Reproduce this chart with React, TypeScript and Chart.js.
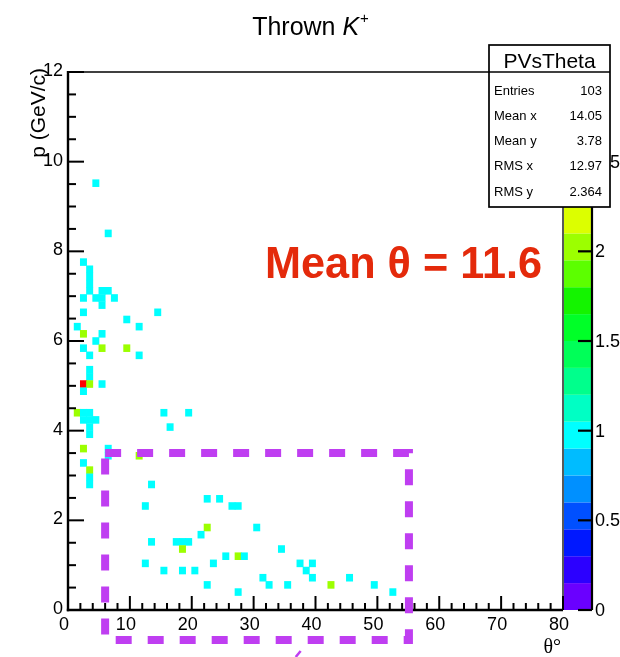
import React, { useEffect, useRef } from "react";
import { Chart, registerables } from "chart.js";

Chart.register(...registerables);

// ---- histogram PVsTheta: 1 deg x 0.16 GeV/c bins, bin centres and contents ----
const THETA_BIN = 1;
const P_BIN = 0.16;

const cellTheta = [
  4.5, 6.5, 2.5, 3.5, 3.5, 3.5, 3.5, 5.5, 6.5, 2.5, 4.5, 5.5, 7.5, 5.5, 2.5, 14.5,
  9.5, 1.5, 11.5, 2.5, 5.5, 4.5, 2.5, 5.5, 9.5, 3.5, 11.5, 3.5, 3.5, 2.5, 3.5, 5.5,
  2.5, 1.5, 2.5, 3.5, 15.5, 19.5, 2.5, 3.5, 4.5, 3.5, 16.5, 3.5, 2.5, 6.5, 6.5, 11.5,
  2.5, 3.5, 3.5, 3.5, 13.5, 12.5, 22.5, 24.5, 26.5, 27.5, 22.5, 30.5, 21.5, 13.5, 17.5,
  18.5, 19.5, 18.5, 34.5, 25.5, 27.5, 28.5, 12.5, 23.5, 37.5, 39.5, 15.5, 18.5, 20.5,
  38.5, 31.5, 39.5, 45.5, 22.5, 32.5, 35.5, 42.5, 49.5, 27.5, 52.5,
];
const cellP = [
  9.52, 8.40, 7.76, 7.60, 7.44, 7.28, 7.12, 7.12, 7.12, 6.96, 6.96, 6.96, 6.96, 6.80, 6.64, 6.64,
  6.48, 6.32, 6.32, 6.16, 6.16, 6.00, 5.84, 5.84, 5.84, 5.68, 5.68, 5.36, 5.20, 5.04, 5.04, 5.04,
  4.88, 4.40, 4.40, 4.40, 4.40, 4.40, 4.24, 4.24, 4.24, 4.08, 4.08, 3.92, 3.60, 3.60, 3.44, 3.44,
  3.28, 3.12, 2.96, 2.80, 2.80, 2.32, 2.48, 2.48, 2.32, 2.32, 1.84, 1.84, 1.68, 1.52, 1.52,
  1.52, 1.52, 1.36, 1.36, 1.20, 1.20, 1.20, 1.04, 1.04, 1.04, 1.04, 0.88, 0.88, 0.88,
  0.88, 0.72, 0.72, 0.72, 0.56, 0.56, 0.56, 0.56, 0.56, 0.40, 0.40,
];
const cellCounts = [
  1, 1, 1, 1, 1, 1, 1, 1, 1, 1, 1, 1, 1, 1, 1, 1,
  1, 1, 1, 2, 1, 1, 1, 2, 2, 1, 1, 1, 1, 3, 2, 1,
  1, 2, 1, 1, 1, 1, 1, 1, 1, 1, 1, 1, 2, 1, 1, 2,
  1, 2, 1, 1, 1, 1, 1, 1, 1, 1, 2, 1, 1, 1, 1,
  1, 1, 2, 1, 1, 2, 1, 1, 1, 1, 1, 1, 1, 1,
  1, 1, 1, 1, 1, 1, 1, 2, 1, 1, 1,
];

// ---- axes ----
const X_MIN = 0, X_MAX = 80, X_MAJOR = 10, X_MINOR = 2;
const Y_MIN = 0, Y_MAX = 12, Y_MAJOR = 2, Y_MINOR = 0.5;
const Z_MIN = 0, Z_MAX = 3, Z_MAJOR = 0.5;
const xTickValues = [0, 10, 20, 30, 40, 50, 60, 70, 80];
const xTickLabels = ["0", "10", "20", "30", "40", "50", "60", "70", "80"];
const yTickValues = [0, 2, 4, 6, 8, 10, 12];
const yTickLabels = ["0", "2", "4", "6", "8", "10", "12"];
const zTickValues = [0, 0.5, 1, 1.5, 2, 2.5, 3];
const zTickLabels = ["0", "0.5", "1", "1.5", "2", "2.5", "3"];

// rainbow palette, 20 contour levels over [Z_MIN, Z_MAX]
const paletteColors = [
  "#6a00ff", "#2c00ff", "#0018ff", "#0050ff", "#0090ff", "#00bcff", "#00ffff", "#00ffc4",
  "#00ff8c", "#00ff58", "#00ff28", "#14f400", "#5cff00", "#9cff00", "#dcff00", "#ffff00",
  "#ffc400", "#ff8a00", "#ff4a00", "#ff0000",
];

// ---- stats box ----
const statsTitle = "PVsTheta";
const statNames = ["Entries", "Mean x", "Mean y", "RMS x", "RMS y"];
const statValues = ["103", "14.05", "3.78", "12.97", "2.364"];

// ---- cut region and note ----
const cutTheta = [6.0, 55.1];
const cutP = [-0.67, 3.5];
const noteText = "Mean \u03b8 = 11.6";

const SANS = '"Liberation Sans", Arial, Helvetica, sans-serif';
const SERIF = '"Liberation Serif", "Times New Roman", serif';

function levelColor(v: number) {
  const n = paletteColors.length;
  const idx = Math.min(n - 1, Math.max(0, Math.floor(((v - Z_MIN) / (Z_MAX - Z_MIN)) * n)));
  return paletteColors[idx];
}

function line(ctx: CanvasRenderingContext2D, x0: number, y0: number, x1: number, y1: number) {
  ctx.beginPath();
  ctx.moveTo(x0, y0);
  ctx.lineTo(x1, y1);
  ctx.stroke();
}

const rootStyle = {
  id: "rootStyle",
  beforeDatasetsDraw(chart: any) {
    const { ctx } = chart;
    const xs = chart.scales.x;
    const ys = chart.scales.y;
    ctx.save();
    for (const pt of chart.data.datasets[0].data) {
      const x0 = xs.getPixelForValue(pt.x - THETA_BIN / 2);
      const x1 = xs.getPixelForValue(pt.x + THETA_BIN / 2);
      const y0 = ys.getPixelForValue(pt.y + P_BIN / 2);
      const y1 = ys.getPixelForValue(pt.y - P_BIN / 2);
      ctx.fillStyle = levelColor(pt.count);
      ctx.fillRect(x0 - 0.4, y0 - 0.2, x1 - x0 + 0.8, y1 - y0 + 0.4);
    }
    ctx.restore();
  },
  afterDraw(chart: any) {
    const { ctx, chartArea: a } = chart;
    const xs = chart.scales.x;
    const ys = chart.scales.y;
    const zs = chart.scales.z;
    ctx.save();

    // frame
    ctx.strokeStyle = "#000";
    ctx.lineWidth = 1.3;
    line(ctx, a.left, a.top, a.right, a.top);
    line(ctx, a.right, a.top, a.right, a.bottom);

    // palette
    const pl = a.right + 1, pr = a.right + 29;
    const n = paletteColors.length;
    for (let i = 0; i < n; i++) {
      const z0 = Z_MIN + ((Z_MAX - Z_MIN) * i) / n;
      const z1 = Z_MIN + ((Z_MAX - Z_MIN) * (i + 1)) / n;
      const yTop = zs.getPixelForValue(z1);
      const yBot = zs.getPixelForValue(z0);
      ctx.fillStyle = paletteColors[i];
      ctx.fillRect(pl, yTop, pr - pl, yBot - yTop);
    }
    ctx.lineWidth = 2.2;
    line(ctx, pr, a.top, pr, a.bottom);
    for (let v = Z_MIN; v <= Z_MAX + 1e-9; v += Z_MAJOR) {
      const py = zs.getPixelForValue(v);
      line(ctx, pr, py, pr - 14, py);
    }
    ctx.fillStyle = "#000";
    ctx.font = `18px ${SANS}`;
    ctx.textAlign = "left";
    ctx.textBaseline = "middle";
    zTickValues.forEach((v, i) => ctx.fillText(zTickLabels[i], pr + 3, zs.getPixelForValue(v) + 1));

    // axes lines
    ctx.lineWidth = 2.4;
    line(ctx, a.left, a.top - 1, a.left, a.bottom + 1.2);
    line(ctx, a.left - 1.2, a.bottom, a.right, a.bottom);

    // ticks (inside the frame)
    ctx.lineWidth = 2;
    for (let v = X_MIN; v <= X_MAX + 1e-9; v += X_MINOR) {
      const px = xs.getPixelForValue(v);
      const len = Math.abs(v / X_MAJOR - Math.round(v / X_MAJOR)) < 1e-6 ? 14 : 7;
      line(ctx, px, a.bottom, px, a.bottom - len);
    }
    for (let v = Y_MIN; v <= Y_MAX + 1e-9; v += Y_MINOR) {
      const py = ys.getPixelForValue(v);
      const len = Math.abs(v / Y_MAJOR - Math.round(v / Y_MAJOR)) < 1e-6 ? 16 : 8;
      line(ctx, a.left, py, a.left + len, py);
    }

    // tick labels
    ctx.font = `18px ${SANS}`;
    ctx.textAlign = "center";
    ctx.textBaseline = "top";
    xTickValues.forEach((v, i) => ctx.fillText(xTickLabels[i], xs.getPixelForValue(v) - 4, a.bottom + 6));
    ctx.textAlign = "right";
    ctx.textBaseline = "middle";
    yTickValues.forEach((v, i) => ctx.fillText(yTickLabels[i], a.left - 5, ys.getPixelForValue(v) - 1));

    // axis titles
    ctx.font = `20px ${SERIF}`;
    ctx.textAlign = "right";
    ctx.textBaseline = "alphabetic";
    ctx.fillText("\u03b8\u00b0", a.right - 2, 653);
    ctx.save();
    ctx.translate(45, a.top - 4);
    ctx.rotate(-Math.PI / 2);
    ctx.font = `21px ${SANS}`;
    ctx.textAlign = "right";
    ctx.fillText("p (GeV/c)", 0, 0);
    ctx.restore();

    // main title: Thrown K^+
    const cx = chart.width / 2;
    ctx.textAlign = "left";
    ctx.textBaseline = "alphabetic";
    const fMain = `25px ${SANS}`;
    const fItal = `italic 25px ${SANS}`;
    const fSup = `15px ${SANS}`;
    ctx.font = fMain;
    const w1 = ctx.measureText("Thrown ").width;
    ctx.font = fItal;
    const w2 = ctx.measureText("K").width;
    ctx.font = fSup;
    const w3 = ctx.measureText("+").width;
    let tx = cx - (w1 + w2 + w3) / 2;
    ctx.font = fMain;
    ctx.fillText("Thrown ", tx, 35);
    tx += w1;
    ctx.font = fItal;
    ctx.fillText("K", tx, 35);
    tx += w2;
    ctx.font = fSup;
    ctx.fillText("+", tx + 1, 23);

    // cut region, dashed
    ctx.save();
    ctx.strokeStyle = "#bf3ef1";
    ctx.lineWidth = 8;
    ctx.lineCap = "butt";
    ctx.setLineDash([16, 16]);
    const bx0 = xs.getPixelForValue(cutTheta[0]);
    const bx1 = xs.getPixelForValue(cutTheta[1]);
    const by0 = ys.getPixelForValue(cutP[1]);
    const by1 = ys.getPixelForValue(cutP[0]);
    ctx.beginPath();
    ctx.moveTo(bx0, by0);
    ctx.lineTo(bx1, by0);
    ctx.lineTo(bx1, by1);
    ctx.lineTo(bx0, by1);
    ctx.lineTo(bx0, by0);
    ctx.stroke();
    ctx.setLineDash([]);
    ctx.lineWidth = 2.5;
    line(ctx, xs.getPixelForValue(36.8), chart.height, xs.getPixelForValue(37.6), chart.height - 6);
    ctx.restore();

    // note
    ctx.fillStyle = "#e42a0b";
    ctx.font = `bold 45px ${SANS}`;
    ctx.textAlign = "left";
    ctx.textBaseline = "alphabetic";
    ctx.fillText(noteText, 265, 278, 277);

    // stats box
    const sl = 489, sr = 610, st = 45, sh = 72, sb = 207;
    ctx.fillStyle = "#fff";
    ctx.fillRect(sl, st, sr - sl, sb - st);
    ctx.strokeStyle = "#000";
    ctx.lineWidth = 1.7;
    ctx.strokeRect(sl, st, sr - sl, sb - st);
    line(ctx, sl, sh, sr, sh);
    ctx.fillStyle = "#000";
    ctx.font = `21px ${SANS}`;
    ctx.textAlign = "center";
    ctx.fillText(statsTitle, (sl + sr) / 2, 68);
    ctx.font = `13px ${SANS}`;
    statNames.forEach((name, i) => {
      const by = 94.5 + i * 25.3;
      ctx.textAlign = "left";
      ctx.fillText(name, sl + 5, by);
      ctx.textAlign = "right";
      ctx.fillText(statValues[i], sr - 8, by);
    });

    ctx.restore();
  },
};

export default function App() {
  const canvasRef = useRef<HTMLCanvasElement | null>(null);

  useEffect(() => {
    const canvas = canvasRef.current;
    if (!canvas) return;
    const cells = cellTheta.map((t, i) => ({ x: t, y: cellP[i], count: cellCounts[i] }));
    const chart = new Chart(canvas, {
      type: "scatter",
      data: {
        datasets: [
          {
            label: "PVsTheta",
            data: cells,
            pointRadius: 0,
            pointHoverRadius: 0,
          },
        ],
      },
      options: {
        animation: false,
        responsive: false,
        events: [],
        layout: { padding: { left: 68, right: 57, top: 72, bottom: 47 } },
        scales: {
          x: { type: "linear", min: X_MIN, max: X_MAX, display: false },
          y: { type: "linear", min: Y_MIN, max: Y_MAX, display: false },
          z: { type: "linear", axis: "y", position: "right", min: Z_MIN, max: Z_MAX, display: false },
        },
        plugins: { legend: { display: false }, tooltip: { enabled: false } },
      },
      plugins: [rootStyle],
    } as any);
    return () => chart.destroy();
  }, []);

  return (
    <div style={{ position: "absolute", left: 0, top: 0, width: 620, height: 657, background: "#fff" }}>
      <canvas ref={canvasRef} width={620} height={657} style={{ display: "block" }} />
    </div>
  );
}
